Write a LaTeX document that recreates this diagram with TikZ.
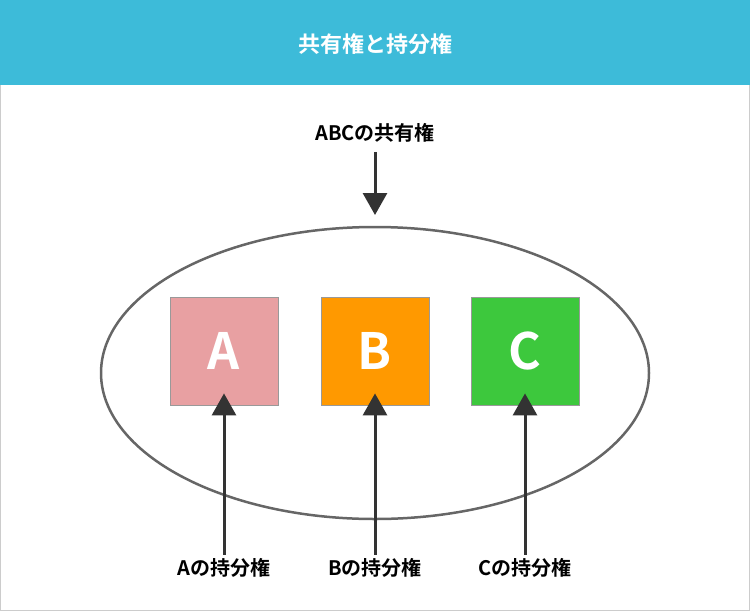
\documentclass[tikz,border=0pt]{standalone}
\usepackage{fontspec}
\setmainfont{Noto Sans CJK JP}[BoldFont={* Bold}]
\usetikzlibrary{arrows.meta}
\definecolor{hdr}{HTML}{3DBBD9}
\definecolor{dk}{HTML}{333333}
\definecolor{cA}{HTML}{E8A0A2}
\definecolor{cB}{HTML}{FF9900}
\definecolor{cC}{HTML}{3DC83D}
\tikzset{
 lab/.style={font=\bfseries\fontsize{20}{24}\selectfont,text=black},
 box/.style={draw=gray!80,line width=0.8pt,minimum width=108pt,minimum height=108pt,inner sep=0,text=white,font=\bfseries\fontsize{50}{60}\selectfont},
 arr/.style={draw=dk,fill=dk,line width=3pt,-{Triangle[width=24pt,length=22pt]}}
}
\begin{document}
\begin{tikzpicture}[x=1pt,y=-1pt]
\useasboundingbox (0,0) rectangle (750,611);
\draw[gray!40,line width=1pt] (0.5,0.5) rectangle (749.5,610.5);
\fill[hdr] (0,0) rectangle (750,85);
\node[font=\bfseries\fontsize{22}{26}\selectfont,text=white] (title) at (375,44) {共有権と持分権};
\node[lab] (abc) at (375,133) {ABCの共有権};
\coordinate (top) at (375,215);
\draw[arr] (abc.south)++(0,6) -- (top);
\draw[draw=gray!110!black,draw=black!60,line width=2.5pt] (375,373) ellipse [x radius=274, y radius=146];
\node[box,fill=cA] (A) at (224,351) {A};
\node[box,fill=cB] (B) at (375,351) {B};
\node[box,fill=cC] (C) at (525,351) {C};
\node[lab] (la) at (224,568) {Aの持分権};
\node[lab] (lb) at (375,568) {Bの持分権};
\node[lab] (lc) at (525,568) {Cの持分権};
\draw[arr] (la.north) -- ([yshift=12pt]A.south);
\draw[arr] (lb.north) -- ([yshift=12pt]B.south);
\draw[arr] (lc.north) -- ([yshift=12pt]C.south);
\end{tikzpicture}
\end{document}
